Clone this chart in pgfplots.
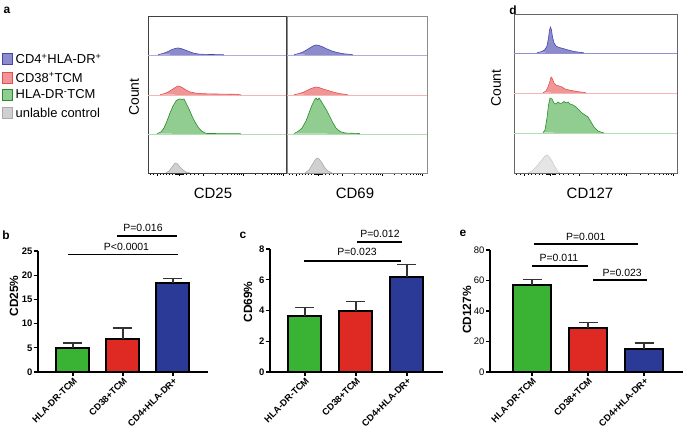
\documentclass[border=0pt]{standalone}
\usepackage{fontspec}
\setmainfont{Liberation Sans}
\usepackage{pgfplots}
\pgfplotsset{compat=1.18}
\newcommand\fs[1]{\fontsize{#1}{#1}\selectfont}
\definecolor{hblueF}{RGB}{140,140,205}
\definecolor{hblueL}{RGB}{70,70,170}
\definecolor{hredF}{RGB}{240,150,150}
\definecolor{hredL}{RGB}{225,80,80}
\definecolor{hgreenF}{RGB}{145,205,145}
\definecolor{hgreenL}{RGB}{40,140,40}
\definecolor{hgrayF}{RGB}{208,208,208}
\definecolor{hgrayL}{RGB}{170,170,170}
\definecolor{bgreen}{RGB}{58,178,52}
\definecolor{bred}{RGB}{222,42,34}
\definecolor{bblue}{RGB}{42,58,150}
\pgfplotsset{
 histax/.style={scale only axis, anchor=south west, axis line style={line width=0.8bp, black!65},
   ytick=\empty, xticklabels={}, tick align=outside, tick pos=left,
   major tick length=3bp, minor tick length=1.6bp,
   every tick/.style={black, line width=0.5bp}},
 hb/.style={fill=hblueF, draw=hblueL, line width=0.6bp},
 hr/.style={fill=hredF, draw=hredL, line width=0.6bp},
 hg/.style={fill=hgreenF, draw=hgreenL, line width=0.6bp},
 hk/.style={fill=hgrayF, draw=hgrayL, line width=0.6bp},
 barax/.style={scale only axis, anchor=south west, axis lines*=left,
   axis line style={line width=1.5bp, -}, tick align=outside, major tick length=4bp,
   every tick/.style={black, line width=1.3bp}, xtick={0,1,2},
   xticklabels={HLA-DR-TCM,CD38+TCM,CD4+HLA-DR+},
   x tick label style={rotate=45, anchor=north east, inner sep=0.5bp, font=\bfseries\fs{9.3}},
   y tick label style={font=\bfseries\fs{9.5}, inner sep=1.5bp},
   /pgf/number format/assume math mode=true, clip=false},
 bars/.style={ybar, bar shift=0pt, draw=black, line width=2bp,
   error bars/y dir=plus, error bars/y explicit,
   error bars/error bar style={line width=1.2bp, black!80},
   error bars/error mark options={rotate=90, mark size=9.5bp, line width=1.2bp, black!80}},
 sig/.style={black, line width=1.2bp, mark=none}
}
\begin{document}
\begin{tikzpicture}
\path[use as bounding box] (0,0) rectangle (685bp,431bp);
% ---------- panel a ----------
\node[font=\bfseries\fs{12}] at (7bp,421bp) {a};
\node[font=\bfseries\fs{12}] at (513bp,421bp) {d};
\node[font=\fs{14}, rotate=90] at (134bp,334bp) {Count};
\node[font=\fs{14}, rotate=90] at (496bp,343bp) {Count};
\node[font=\fs{15}] at (213bp,238bp) {CD25};
\node[font=\fs{15}] at (355bp,238bp) {CD69};
\node[font=\fs{15}] at (590bp,238bp) {CD127};
% legend
\foreach \yy/\cf/\cl/\tx in {372/hblueF/hblueL/{CD4\textsuperscript{+}HLA-DR\textsuperscript{+}},
  353.5/hredF/hredL/{CD38\textsuperscript{+}TCM},
  336.5/hgreenF/hgreenL/{HLA-DR\textsuperscript{-}TCM},
  318.5/hgrayF/hgrayL/{unlable control}}{
  \node[draw=\cl, fill=\cf, minimum width=10.5bp, minimum height=11bp, inner sep=0pt, line width=0.8bp] at (7.5bp,\yy bp) {};
  \node[anchor=west, font=\fs{13}, inner sep=0pt] at (15.5bp,\yy bp) {\tx};
}
% CD25 histogram
\begin{axis}[histax, at={(148bp,258bp)}, width=138bp, height=157bp,
  xmin=148, xmax=286, ymin=0, ymax=157, axis line style={black!75},
  xtick={157,179,203,243,283},
  minor xtick={150,153,160,163,166,169,172,175,176,177,178,180,181,182,183,186,190,194,198,215,222,227,231,234,237,239,241,255,262,267,271,274,277,279,281}]
\addplot[hblueF!70, line width=0.8bp] coordinates {(148,118) (286,118)};
\addplot[hb] coordinates {(158,118.3) (163,119.5) (168,121.5) (172,123.5) (176,124.8) (178,125) (181,124.5) (185,123) (189,121.5) (193,120) (198,119) (205,118.6) (223,118.3) (224,118)};
\addplot[hredF!70, line width=0.8bp] coordinates {(148,78) (286,78)};
\addplot[hr] coordinates {(160,78.3) (165,79.5) (169,81.5) (173,84) (176,86) (178,87) (180,86.5) (183,85) (186,83) (190,81) (195,80) (202,79.3) (215,79) (235,78.7) (240,78.3) (241,78)};
\addplot[hgreenF!70, line width=0.8bp] coordinates {(148,39) (286,39)};
\addplot[hg] coordinates {(157,39.3) (161,41) (164,45) (167,52) (170,60) (173,67) (176,72) (178,73.5) (180,74) (182,73.5) (184,74) (186,70) (189,64) (192,57) (195,51) (198,46) (201,42.5) (204,40.5) (207,39.5) (240,39.3) (241,39)};
\addplot[hk] coordinates {(166,0) (169,2) (172,6) (175,10) (177,9.5) (180,6) (183,3) (186,1) (190,0)};
\end{axis}
% CD69 histogram
\begin{axis}[histax, at={(287bp,258bp)}, width=140bp, height=157bp,
  xmin=287, xmax=427, ymin=0, ymax=157, axis line style={black!45},
  xtick={296,318,342,382,422},
  minor xtick={289,292,299,302,305,308,311,314,315,316,317,319,320,321,322,325,329,333,337,354,361,366,370,373,376,378,380,394,401,406,410,413,416,418,420}]
\addplot[hblueF!70, line width=0.8bp] coordinates {(287,118) (427,118)};
\addplot[hb] coordinates {(294,118.3) (299,119.5) (304,121.5) (309,124.5) (313,127) (316,128) (319,127.5) (323,126) (327,124) (332,122) (337,120.5) (343,119.3) (351,118.5) (353,118)};
\addplot[hredF!70, line width=0.8bp] coordinates {(287,78) (427,78)};
\addplot[hr] coordinates {(294,78.3) (300,79.5) (305,81.5) (310,84) (314,85.5) (316,86) (319,85.5) (323,84) (328,82.5) (333,81) (339,79.5) (346,78.5) (348,78)};
\addplot[hgreenF!70, line width=0.8bp] coordinates {(287,39) (427,39)};
\addplot[hg] coordinates {(294,39.5) (298,41.5) (302,45) (306,52) (309,60) (312,68) (315,74) (316,75) (317.5,73) (319,75) (321,72) (324,67) (327,62) (330,56) (333,50) (336,45) (340,41.5) (345,40) (359,39.5) (360,39)};
\addplot[hk] coordinates {(305,0) (309,3) (312,8) (315,13) (317,15) (319,14) (322,10) (325,5) (328,2) (332,0)};
\end{axis}
% CD127 histogram
\begin{axis}[histax, at={(514bp,258bp)}, width=163bp, height=159bp,
  xmin=514, xmax=677, ymin=0, ymax=159, axis line style={black!60},
  xtick={524.6,550.6,579,626.2,673.4},
  minor xtick={516.4,519.9,528.2,531.7,535.3,538.8,542.3,545.9,547.1,548.2,549.4,551.8,553,554.2,555.3,558.9,563.6,568.3,573,593.1,601.4,607.3,612,615.6,619.1,621.5,623.8,640.4,648.6,654.5,659.3,662.8,666.3,668.7,671.1}]
\addplot[hblueL!60, line width=0.8bp] coordinates {(514,120) (677,120)};
\addplot[hb] coordinates {(537,120.3) (542,121.5) (545,123.5) (547,127) (548.5,135) (549.5,143) (550.5,146) (551.5,143) (552.5,136) (554,130) (556,127) (559,125.5) (563,124.5) (568,123) (574,121.5) (583,120.3) (584,120)};
\addplot[hredF!70, line width=0.8bp] coordinates {(514,80) (677,80)};
\addplot[hr] coordinates {(543,80.3) (546,82) (548,86) (550,92) (551,96) (552.5,94) (554,90) (556,88) (559,87) (562,86) (565,84) (569,83) (574,82) (580,81) (585,80.5) (586,80)};
\addplot[hgreenF!70, line width=0.8bp] coordinates {(514,40) (677,40)};
\addplot[hg] coordinates {(543,40.3) (545,43) (547,55) (548.5,68) (550,75) (552,74) (554,70) (556,69) (558,71) (560,69.5) (562,70) (564,71.5) (566,70) (568,71) (570,69) (573,68) (576,66) (579,63) (582,60) (585,58) (588,56) (591,51) (594,46) (598,42) (602,40.5) (604,40)};
\addplot[fill=black!10, draw=black!20, line width=0.6bp] coordinates {(528,0) (532,2) (537,7) (541,12) (545,17) (547,18) (549,16.5) (552,12) (555,6) (558,1) (560,0)};
\end{axis}
% ---------- panel b ----------
\node[font=\bfseries\fs{12}] at (6bp,196bp) {b};
\node[font=\bfseries\fs{12}, rotate=90] at (14bp,135bp) {CD25\%};
\begin{axis}[barax, at={(38bp,59bp)}, width=170bp, height=121bp,
  xmin=-0.7, xmax=2.7, ymin=0, ymax=25, ytick={0,5,...,25}, bar width=33bp]
\addplot[bars, fill=bgreen] coordinates {(0,5) +- (0,1.0)};
\addplot[bars, fill=bred] coordinates {(1,6.9) +- (0,2.2)};
\addplot[bars, fill=bblue] coordinates {(2,18.4) +- (0,0.9)};
\addplot[sig] coordinates {(-0.1,24.2) (2.1,24.2)};
\addplot[sig] coordinates {(0.88,28.1) (2.08,28.1)};
\node[font=\fs{10.5}] at (axis cs:1.07,25.8) {P<0.0001};
\node[font=\fs{10.5}] at (axis cs:1.4,29.8) {P=0.016};
\end{axis}
% ---------- panel c ----------
\node[font=\bfseries\fs{12}] at (243bp,196bp) {c};
\node[font=\bfseries\fs{12}, rotate=90] at (248bp,129bp) {CD69\%};
\begin{axis}[barax, at={(270bp,59bp)}, width=173bp, height=123bp,
  xmin=-0.686, xmax=2.706, ymin=0, ymax=8, ytick={0,2,...,8}, bar width=33bp]
\addplot[bars, fill=bgreen] coordinates {(0,3.65) +- (0,0.57)};
\addplot[bars, fill=bred] coordinates {(1,3.98) +- (0,0.62)};
\addplot[bars, fill=bblue] coordinates {(2,6.18) +- (0,0.82)};
\addplot[sig] coordinates {(-0.02,7.22) (1.88,7.22)};
\addplot[sig] coordinates {(1.02,8.45) (1.9,8.45)};
\node[font=\fs{10.5}] at (axis cs:1.02,7.8) {P=0.023};
\node[font=\fs{10.5}] at (axis cs:1.47,8.97) {P=0.012};
\end{axis}
% ---------- panel e ----------
\node[font=\bfseries\fs{12}] at (463bp,198bp) {e};
\node[font=\bfseries\fs{12}, rotate=90] at (467bp,121bp) {CD127\%};
\begin{axis}[barax, at={(490bp,59bp)}, width=193bp, height=122bp,
  xmin=-0.75, xmax=2.696, ymin=0, ymax=80, ytick={0,20,...,80}, bar width=38bp,
  y tick label style={font=\fs{9.5}}]
\addplot[bars, fill=bgreen] coordinates {(0,57.2) +- (0,3.3)};
\addplot[bars, fill=bred] coordinates {(1,29) +- (0,3.2)};
\addplot[bars, fill=bblue] coordinates {(2,15) +- (0,4)};
\addplot[sig] coordinates {(0.04,83.9) (1.89,83.9)};
\addplot[sig] coordinates {(0,69.5) (1.0,69.5)};
\addplot[sig] coordinates {(1.09,60.3) (2.05,60.3)};
\node[font=\fs{10.5}] at (axis cs:0.96,88.8) {P=0.001};
\node[font=\fs{10.5}] at (axis cs:0.48,74.8) {P=0.011};
\node[font=\fs{10.5}] at (axis cs:1.61,65.2) {P=0.023};
\end{axis}
\end{tikzpicture}
\end{document}
